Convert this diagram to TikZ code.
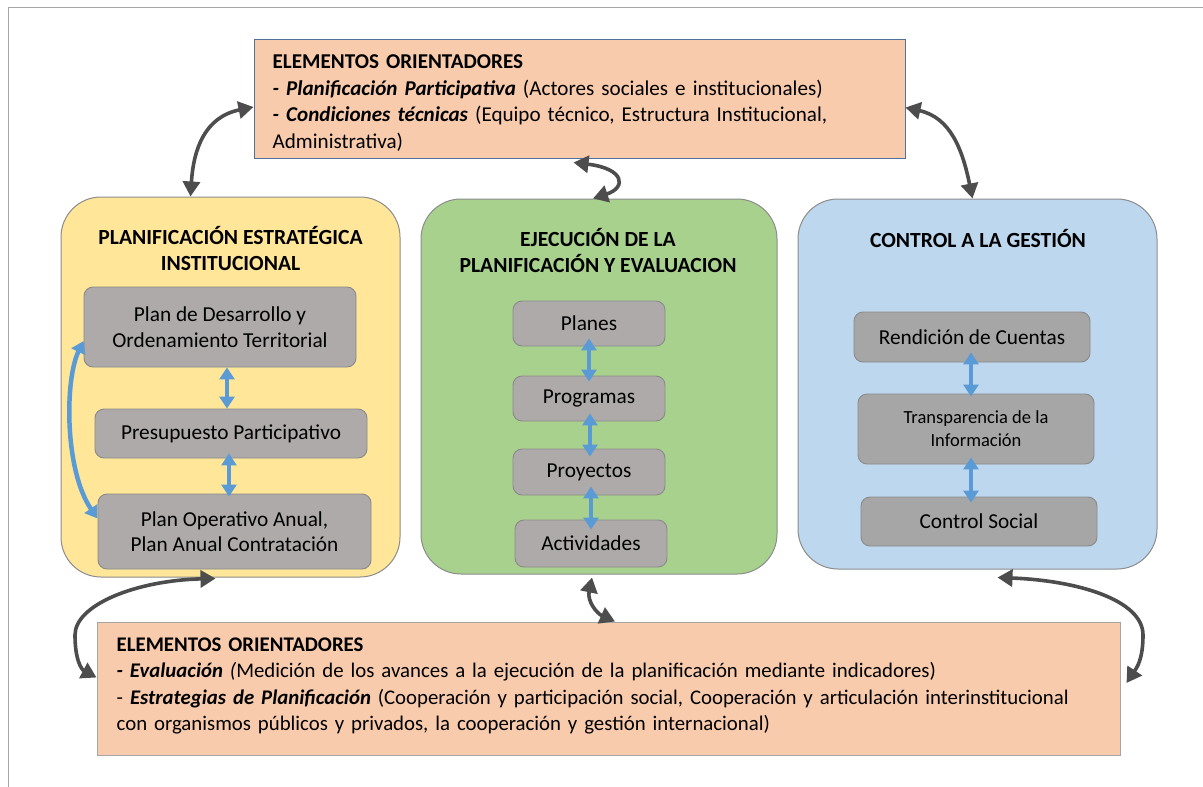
\documentclass[tikz,border=0pt]{standalone}
\usepackage{fontspec}
\setmainfont{Carlito}
\usetikzlibrary{arrows.meta}
\definecolor{peach}{HTML}{F8CBAD}
\definecolor{topline}{HTML}{4F729B}
\definecolor{botline}{HTML}{A5A5A5}
\definecolor{yelfill}{HTML}{FFE699}
\definecolor{grnfill}{HTML}{A9D18E}
\definecolor{blufill}{HTML}{BDD7EE}
\definecolor{panelline}{HTML}{8C8C8C}
\definecolor{iboxgray}{HTML}{AEAAAA}
\definecolor{iboxgrayr}{HTML}{A6A6A6}
\definecolor{iboxline}{HTML}{8A8A8A}
\definecolor{arrowblue}{HTML}{5B9BD5}
\definecolor{arrowdark}{HTML}{4D4D4D}
\definecolor{framecol}{HTML}{A6A6A6}
\begin{document}
\begin{tikzpicture}[x=1pt,y=-1pt,
  panel/.style={draw=panelline, line width=1pt, rounded corners=40pt, inner sep=0pt},
  ptitle/.style={align=center, font=\fontsize{21.6}{26}\selectfont\bfseries, inner sep=0pt},
  ibox/.style={draw=iboxline, line width=0.9pt, fill=iboxgray, rounded corners=9pt, align=center, font=\fontsize{21.3}{25.5}\selectfont, inner sep=0pt},
  eobox/.style={fill=peach, line width=1pt, inner sep=0pt},
  eotext/.style={align=left, inner sep=0pt},
  barrow/.style={draw=arrowblue, line width=4.5pt, {Triangle[width=15pt,length=12pt]}-{Triangle[width=15pt,length=12pt]}},
  darrow/.style={draw=arrowdark, line width=3.6pt, {Triangle[width=17pt,length=15pt]}-{Triangle[width=17pt,length=15pt]}}
]
\useasboundingbox (0,0) rectangle (1203,787);
\fill[white] (0,0) rectangle (1203,787);
\draw[framecol, line width=1.3pt] (8.5,787) -- (8.5,7.5) -- (1203,7.5);

% top box
\node[eobox, draw=topline, minimum width=651pt, minimum height=119pt] (tb) at (579.5,98.5) {};
\node[eotext, anchor=north west, text width=620pt, font=\fontsize{21.1}{26.7}\selectfont] (tbt) at ([xshift=19pt,yshift=-16pt]tb.north west)
{\textbf{ELEMENTOS ORIENTADORES}\\
\textbf{\textit{- Planificación Participativa}} (Actores sociales e institucionales)\\
\textbf{\textit{- Condiciones técnicas}} (Equipo técnico, Estructura Institucional,\\
Administrativa)};

% bottom box
\node[eobox, draw=botline, minimum width=1023pt, minimum height=133pt] (bb) at (608.5,688.5) {};
\node[eotext, anchor=north west, text width=995pt, font=\fontsize{20.8}{26.4}\selectfont] (bbt) at ([xshift=20pt,yshift=-16pt]bb.north west)
{\textbf{ELEMENTOS ORIENTADORES}\\
\textbf{\textit{- Evaluación}} \textit{(}Medición de los avances a la ejecución de la planificación mediante indicadores)\\
- \textbf{\textit{Estrategias de Planificación}} (Cooperación y participación social, Cooperación y articulación interinstitucional\\
con organismos públicos y privados, la cooperación y gestión internacional)};

% panels
\node[panel, fill=yelfill, minimum width=339pt, minimum height=380pt] (pl) at (230.5,387) {};
\node[panel, fill=grnfill, minimum width=356pt, minimum height=375pt] (pm) at (599,386.5) {};
\node[panel, fill=blufill, minimum width=359pt, minimum height=370pt] (pr) at (977.5,384) {};

\node[ptitle] (plt) at (230.5,249) {PLANIFICACIÓN ESTRATÉGICA\\INSTITUCIONAL};
\node[ptitle] (pmt) at (598,251) {EJECUCIÓN DE LA\\PLANIFICACIÓN Y EVALUACION};
\node[ptitle] (prt) at (978,238.5) {CONTROL A LA GESTIÓN};

% left inner boxes
\node[ibox, minimum width=272pt, minimum height=80pt] (pd) at (220,327) {Plan de Desarrollo y\\Ordenamiento Territorial};
\node[ibox, minimum width=272pt, minimum height=49pt] (pp) at (231,433.5) {Presupuesto Participativo};
\node[ibox, minimum width=273pt, minimum height=75pt] (po) at (234.5,531.5) {Plan Operativo Anual,\\Plan Anual Contratación};

% middle inner boxes
\node[ibox, minimum width=152pt, minimum height=45pt] (planes) at (589,323.5) {Planes};
\node[ibox, minimum width=152pt, minimum height=45pt] (progr) at (589,398.5) {Programas};
\node[ibox, minimum width=152pt, minimum height=46pt] (proy) at (589,472) {Proyectos};
\node[ibox, minimum width=152pt, minimum height=47pt] (activ) at (591,543.5) {Actividades};

% right inner boxes
\node[ibox, fill=iboxgrayr, minimum width=236pt, minimum height=50pt] (rend) at (972,337) {Rendición de Cuentas};
\node[ibox, fill=iboxgrayr, minimum width=236pt, minimum height=70pt, font=\fontsize{18.5}{23}\selectfont] (trans) at (976,429) {Transparencia de la\\Información};
\node[ibox, fill=iboxgrayr, minimum width=236pt, minimum height=49pt] (cs) at (979,521.5) {Control Social};

% blue arrows
\draw[barrow] ([xshift=7pt]pd.south) -- ([xshift=-4pt]pp.north);
\draw[barrow] ([xshift=-2pt,yshift=5pt]pp.south) -- ([xshift=-5.5pt,yshift=-3pt]po.north);
\draw[barrow] ([yshift=-14pt]pd.west) .. controls +(-19,39) and +(-33,-48) .. ([yshift=13pt]po.west);

\draw[barrow] ([yshift=8pt]planes.south) -- ([yshift=-6pt]progr.north);
\draw[barrow] ([xshift=1pt,yshift=8pt]progr.south) -- ([xshift=1pt,yshift=-8pt]proy.north);
\draw[barrow] ([xshift=2pt,yshift=9pt]proy.south) -- ([yshift=-10pt]activ.north);

\draw[barrow] ([xshift=-1pt,yshift=10pt]rend.south) -- ([xshift=-5pt,yshift=-3pt]trans.north);
\draw[barrow] ([xshift=-5pt,yshift=7pt]trans.south) -- ([xshift=-8pt,yshift=-6pt]cs.north);

% dark curved arrows
\draw[darrow] ([yshift=-8.5pt]tb.west) .. controls +(-49,10) and +(3,-47) .. ([xshift=-40pt]pl.north);
\draw[darrow] ([yshift=-9pt]tb.east) .. controls +(45,10) and +(-10,-49) .. ([xshift=-5pt]pr.north);
\draw[darrow] ([xshift=-6pt,yshift=-4pt]tb.south) .. controls +(51,6) and +(34,-11) .. ([xshift=-6pt]pm.north);
\draw[darrow] ([xshift=-15pt,yshift=-1pt]pl.south) .. controls +(-80,2) and +(0,-30) .. (75,635) .. controls +(0,25) and +(-15,-8) .. ([yshift=11pt]bb.west);
\draw[darrow] ([xshift=-7pt,yshift=-3pt]pm.south) .. controls +(-5,24) and +(-18,-8) .. ([xshift=6.5pt]bb.north);
\draw[darrow] ([xshift=20pt,yshift=-8pt]pr.south) .. controls +(80,3) and +(0,-35) .. (1143,635) .. controls +(0,25) and +(10,-15) .. ([xshift=6pt,yshift=5.5pt]bb.east);
\end{tikzpicture}
\end{document}
